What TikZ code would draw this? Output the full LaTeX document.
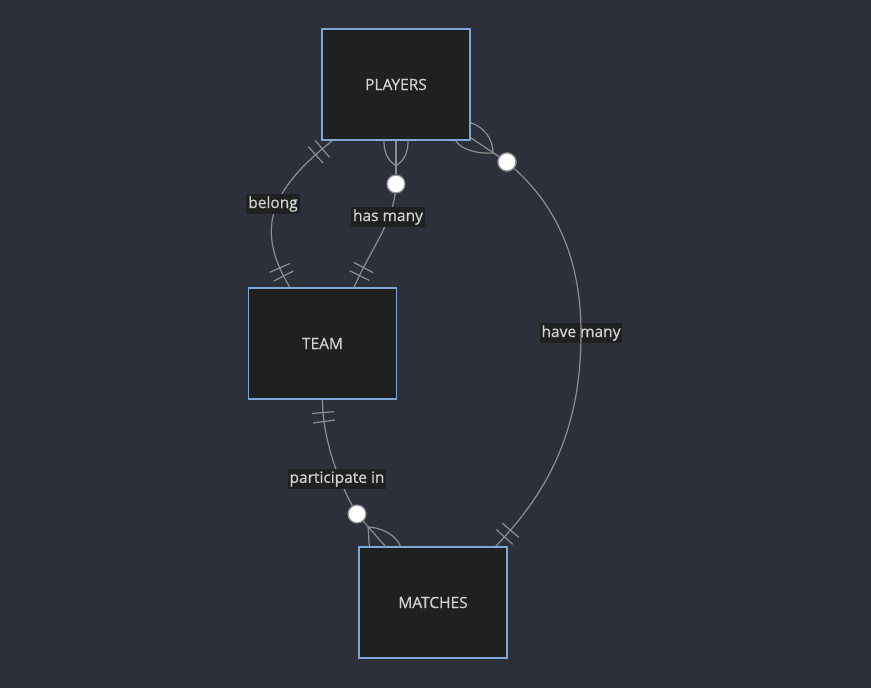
\documentclass[tikz,border=0pt]{standalone}
\usepackage{fontspec}
\setmainfont{Open Sans}
\newfontfamily\lblfont{Open Sans}[FakeBold=0.6]
\usepackage{tikz}
\usetikzlibrary{decorations.markings}

\definecolor{bgcol}{HTML}{2B303B}
\definecolor{boxfill}{HTML}{1F2020}
\definecolor{boxline}{HTML}{7EA6D6}
\definecolor{linecol}{HTML}{8E8E8E}
\definecolor{textcol}{HTML}{D2D2D2}

\tikzset{
  entity/.style={draw=boxline,fill=boxfill,line width=1.2pt,minimum width=148pt,
    minimum height=111pt,text=textcol,font=\lblfont\fontsize{15.5}{19}\selectfont},
  rel/.style={fill=boxfill,text=textcol,inner sep=2pt,font=\lblfont\fontsize{15.5}{19}\selectfont},
  edge/.style={draw=linecol,line width=1.2pt},
  zero/.style={circle,draw=linecol,fill=white,line width=1.2pt,minimum size=18pt,inner sep=0pt},
  onlyone/.style 2 args={postaction={decorate,decoration={markings,
    mark=at position #1 with {\draw[edge] (0,-11pt) -- (0,11pt);},
    mark=at position #2 with {\draw[edge] (0,-11pt) -- (0,11pt);}}}},
}

\begin{document}
\begin{tikzpicture}[x=1pt,y=-1pt]
\fill[bgcol] (0,0) rectangle (871,688);
\useasboundingbox (0,0) rectangle (871,688);

% Entities
\node[entity] (players) at (396,84.5) {PLAYERS};
\node[entity] (team) at (322.5,343.5) {TEAM};
\node[entity] (matches) at (433,602.5) {MATCHES};

% Zero-or-more circles
\node[zero] (c1) at (396,184) {};
\node[zero] (c2) at (507,162) {};
\node[zero] (c3) at (357,514) {};
\coordinate (fa) at (396,166);
\coordinate (fb) at (493,153);
\coordinate (fc) at (368,527);

% PLAYERS -- TEAM: belong
\draw[edge,onlyone={13pt}{22pt},onlyone={-22pt}{-13pt}]
  ([xshift=11pt]players.south west) .. controls +(-63,50) and +(-35,-58) .. ([xshift=42pt]team.north west);

% PLAYERS -- TEAM: has many
\draw[edge] (players.south) -- (c1);
\draw[edge] ([xshift=-12pt]players.south) .. controls +(0,16) and +(-6,-5) .. (fa);
\draw[edge] ([xshift=12pt]players.south) .. controls +(0,16) and +(6,-5) .. (fa);
\draw[edge,onlyone={-22pt}{-13pt}]
  (c1) .. controls +(-4,40) and +(12,-30) .. ([xshift=-43pt]team.north east);

% PLAYERS -- MATCHES: have many (label sits under the line)
\node[rel] (lhave) at (581,333) {have many};
\draw[edge] ([yshift=3pt]players.south east) -- (c2);
\draw[edge] ([yshift=18pt]players.south east) .. controls +(14,5) and +(0,-14) .. (fb);
\draw[edge] ([xshift=-15pt]players.south east) .. controls +(6,10) and +(-13,1) .. (fb);
\draw[edge,onlyone={-22pt}{-13pt}]
  (c2) .. controls +(50,45) and +(0,-73) .. (581,333)
  .. controls +(0,87) and +(60,-62) .. ([xshift=-12pt]matches.north east);
\node[zero] at (c2) {};

% TEAM -- MATCHES: participate in
\draw[edge,onlyone={13pt}{22pt}]
  (team.south) .. controls +(0,45) and +(-14,-25) .. (c3);
\draw[edge] (c3) -- ([xshift=27pt]matches.north west);
\draw[edge] (fc) .. controls +(1,8) and +(-1,-8) .. ([xshift=11pt]matches.north west);
\draw[edge] (fc) .. controls +(17,1) and +(-3,-9) .. ([xshift=42pt]matches.north west);

% Labels
\node[rel] (lbelong) at (273,204) {belong};
\node[rel] (lhas) at (388,217) {has many};
\node[rel] (lpart) at (337,479) {participate in};
\end{tikzpicture}
\end{document}
